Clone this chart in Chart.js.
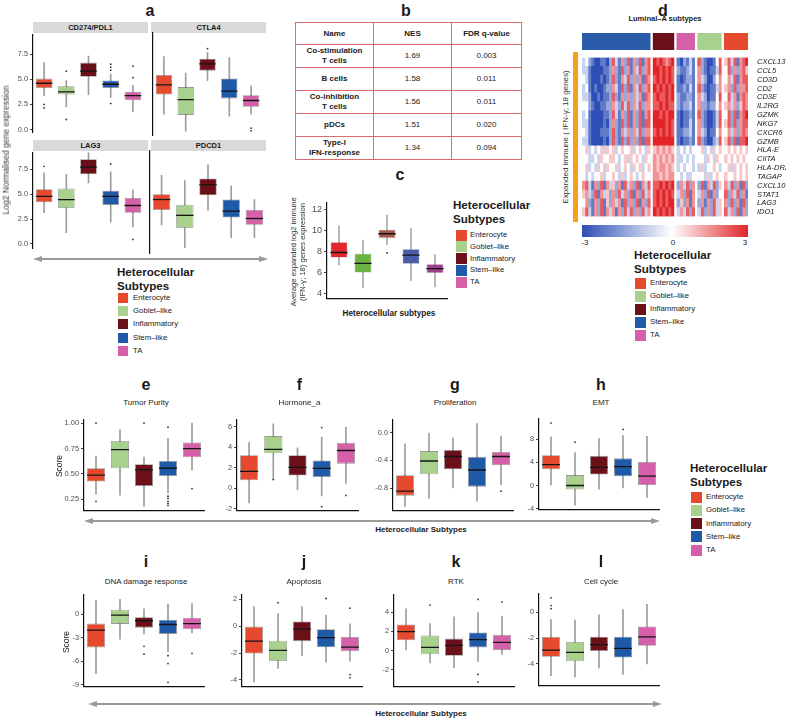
<!DOCTYPE html>
<html>
<head>
<meta charset="utf-8">
<script src="https://cdn.jsdelivr.net/npm/chart.js@4.4.0/dist/chart.umd.min.js"></script>
<style>
body { margin:0; width:786px; height:719px; position:relative; background:#fff; overflow:hidden;
       font-family:"Liberation Sans", Arial, sans-serif; color:#1a1a1a; }
.t { position:absolute; white-space:nowrap; line-height:1; transform:translate(-50%,-50%); }
.l { position:absolute; white-space:nowrap; line-height:1; transform:translate(0,-50%); }
.sq { position:absolute; }
table.nes { position:absolute; left:295px; top:22px; border-collapse:collapse; font-size:8px; }
table.nes td { border:1px solid #dd6c6c; text-align:center; padding:0; line-height:1.2; }
</style>
</head>
<body>
<script>
// ---- data ----
const subtypes = ['Enterocyte', 'Goblet–like', 'Inflammatory', 'Stem–like', 'TA'];

// each row: [lower whisker, q1, median, q3, upper whisker]
const cd274 = [[3.37,4.12,4.6,5.06,6.65],[2.25,3.47,3.75,4.3,4.87],[3.47,5.25,5.8,6.65,7.3],[3.2,4.12,4.5,4.87,5.5],[1.78,2.9,3.37,3.75,4.4]];
const cd274Out = [[2.5,2.15],[5.8,1.0],[],[6.5,6.2,5.9,2.6],[5.15,6.3]];
const ctla4 = [[1.69,3.56,4.5,5.44,7.19],[0.06,1.62,3.09,4.28,5.62],[4.9,5.85,6.5,7.0,7.6],[1.5,3.2,3.9,5.1,7.1],[1.7,2.4,3.0,3.5,4.4]];
const ctla4Out = [[],[],[7.95],[],[0.35,0.1]];
const lag3 = [[3.13,4.18,4.78,5.5,7.15],[1.14,3.6,4.46,5.57,7.0],[6.14,7.0,7.72,8.52,9.2],[2.18,3.92,4.78,5.35,7.25],[1.71,3.13,3.86,4.62,5.44]];
const lag3Out = [[7.8],[],[],[8.04],[0.45]];
const pdcd1 = [[2.2,3.6,4.6,5.1,6.9],[0.0,1.9,3.1,4.1,6.4],[3.6,5.0,6.0,6.6,7.9],[1.0,2.9,3.5,4.6,5.9],[1.0,2.2,2.8,3.6,4.6]];
const pdcd1Out = [[],[],[],[],[]];

const immune = [[6.7,7.4,7.9,8.9,10.45],[4.5,5.95,6.85,7.8,9.1],[8.65,9.25,9.7,10.1,11.5],[5.2,6.8,7.65,8.25,10.2],[4.6,5.9,6.35,6.8,7.7]];
const immuneOut = [[],[],[7.85],[],[]];

const purity = [[0.30,0.426,0.488,0.556,0.676],[0.29,0.556,0.74,0.824,0.935],[0.18,0.38,0.54,0.595,0.667],[0.31,0.48,0.556,0.627,0.85],[0.54,0.664,0.75,0.81,1.0]];
const purityOut = [[1.0,0.23],[],[1.0],[0.96,0.28,0.26,0.23,0.21,0.19],[0.355]];
const hormone = [[-1.42,0.79,1.65,3.24,4.47],[0.88,3.43,3.8,5.11,6.3],[-0.13,1.25,2.05,3.24,3.95],[-0.74,1.1,1.95,2.72,5.0],[0.48,2.41,3.7,4.47,6.0]];
const hormoneOut = [[],[0.85],[],[5.94,-1.8],[-0.7]];
const prolif = [[-1.07,-0.91,-0.845,-0.615,-0.163],[-0.95,-0.6,-0.41,-0.267,0.0],[-0.8,-0.53,-0.345,-0.25,-0.08],[-0.99,-0.78,-0.54,-0.35,0.13],[-0.75,-0.47,-0.345,-0.28,-0.05]];
const prolifOut = [[],[],[],[],[-0.845]];
const emt = [[0.1,2.81,3.62,5.24,8.4],[-3.4,-0.7,0.0,1.8,5.7],[-0.64,1.89,3.14,5.13,8.1],[-0.4,1.6,3.25,4.7,8.65],[-2.05,0.0,1.63,4.06,8.5]];
const emtOut = [[10.8],[7.5],[],[9.7],[]];
const dna = [[-7.6,-4.24,-2.04,-1.2,1.76],[-3.2,-1.24,-0.12,0.56,1.88],[-2.52,-1.72,-0.84,-0.4,0.68],[-4.8,-2.52,-1.32,-0.72,1.28],[-2.4,-1.92,-1.2,-0.44,1.36]];
const dnaOut = [[],[],[-4.1,-5.1],[-5.3,-6.3,-8.7],[-5.0]];
const apop = [[-4.14,-2.03,-1.12,0.0,1.44],[-3.14,-2.6,-1.81,-1.09,0.93],[-2.2,-1.12,-0.23,0.35,1.44],[-2.68,-1.58,-0.86,-0.23,0.81],[-2.6,-1.86,-1.56,-0.81,0.16]];
const apopOut = [[],[1.74],[],[2.05],[1.33,-3.6,-3.84]];
const rtk = [[0.0,1.08,1.97,2.72,4.36],[-1.3,-0.4,0.33,1.57,2.82],[-1.8,-0.55,0.53,1.25,3.54],[-1.15,0.33,1.15,1.9,3.97],[-0.4,0.04,0.85,1.64,3.6]];
const rtkOut = [[],[4.76],[],[5.35,-2.5,-3.3],[5.1]];
const cycle = [[-4.9,-3.44,-2.93,-1.91,-0.58],[-5.0,-3.8,-3.1,-2.3,-0.6],[-4.3,-3.0,-2.5,-1.9,-0.2],[-4.8,-3.5,-2.8,-1.9,0.2],[-4.0,-2.6,-1.9,-1.1,0.6]];
const cycleOut = [[1.11,0.51,0.27],[],[],[],[]];

// GSEA table
const gseaNames = ['Co-stimulation<br>T cells', 'B cells', 'Co-inhibition<br>T cells', 'pDCs', 'Type-I<br>IFN-response'];
const gseaNES = ['1.69', '1.58', '1.56', '1.51', '1.34'];
const gseaFDR = ['0.003', '0.011', '0.011', '0.020', '0.094'];

// heatmap: z-scores coded 0..8 (4 = 0, step 0.75), groups split by |
const genes = ['CXCL13','CCL5','CD3D','CD2','CD3E','IL2RG','GZMK','NKG7','CXCR6','GZMB','HLA-E','CIITA','HLA-DRA','TAGAP','CXCL10','STAT1','LAG3','IDO1'];
const heatGroups = ['Stem–like', 'Inflammatory', 'TA', 'Goblet–like', 'Enterocyte'];
const heatGroupCols = [23, 7, 6, 8, 8];
const heatRows = [
  '34210 01102 73162 71627 167 | 8787678 | 102131 | 72100147 | 57371678',
  '33100 00112 62172 61637 267 | 8878787 | 211231 | 62101137 | 47262675',
  '43100 01012 72163 72626 176 | 7878787 | 101221 | 63200246 | 46371677',
  '34101 00122 63172 71637 267 | 8787878 | 112131 | 72101136 | 56272667',
  '33200 10112 72162 62636 176 | 7877878 | 211221 | 63201147 | 47361676',
  '44210 01122 63273 72637 266 | 7787877 | 212231 | 62212246 | 56362576',
  '34100 00112 73162 71627 167 | 8878788 | 101121 | 72100137 | 47271678',
  '33100 00102 62172 71627 177 | 8888787 | 101131 | 62100137 | 57272677',
  '43100 01112 72163 62637 266 | 7878787 | 112231 | 63201146 | 46362676',
  '33100 00102 72172 72627 177 | 8888888 | 101121 | 72100237 | 57271778',
  '45343 45354 53454 45345 435 | 5656565 | 343434 | 45343545 | 45454545',
  '44334 35445 54345 35454 354 | 6565656 | 334343 | 44354354 | 54545454',
  '45343 54354 45345 43545 345 | 6566565 | 343443 | 35344543 | 45354545',
  '43434 45344 54353 45434 544 | 6656566 | 434334 | 44353454 | 54454545',
  '67316 27163 52617 36271 637 | 7787878 | 263726 | 27163725 | 63726172',
  '56327 16352 62736 27162 736 | 7878787 | 362716 | 36271624 | 72637261',
  '46216 27152 63617 26271 627 | 7878788 | 252616 | 26162735 | 62726172',
  '57316 27163 61627 37262 736 | 8787878 | 363727 | 37262735 | 73627162'
];

// ---- styles ----
const subtypeColors = ['#e64a2e', '#a9d18e', '#6b1018', '#1f5aa8', '#d55fa9'];
const immuneColors = ['#e3262b', '#6cb242', '#a35a4c', '#4b5ca9', '#a13d8e'];
const groupColors = {'Stem–like':'#2a5caa','Inflammatory':'#6b1018','TA':'#d55fa9','Goblet–like':'#a9d18e','Enterocyte':'#e64a2e'};

Chart.defaults.font.family = '"Liberation Sans", Arial, sans-serif';
Chart.defaults.animation = false;
Chart.defaults.events = [];
Chart.defaults.plugins.legend.display = false;
Chart.defaults.plugins.tooltip.enabled = false;

function place(left, top, w, h) {
  const d = document.createElement('div');
  d.style.cssText = `position:absolute;left:${left}px;top:${top}px;width:${w}px;height:${h}px`;
  const c = document.createElement('canvas');
  d.appendChild(c);
  document.body.appendChild(d);
  return c;
}

function text(str, x, y, css, cls) {
  const d = document.createElement('div');
  d.className = cls || 't';
  d.innerHTML = str;
  d.style.cssText = `left:${x}px;top:${y}px;` + (css || '');
  document.body.appendChild(d);
  return d;
}

function boxPanel(box, out, p) {
  const padTop = 5, xh = 2;
  const left = p.axis - p.yw;
  const cv = place(left, p.top - padTop, p.right - left, p.bottom - p.top + padTop + xh);
  const bw = p.bw || 0.75;
  const pts = [];
  out.forEach((arr, i) => arr.forEach(v => pts.push({ x: subtypes[i], y: v })));
  return new Chart(cv, {
    type: 'bar',
    data: {
      labels: subtypes,
      datasets: [
        { data: box.map(b => [b[0], b[4]]), backgroundColor: p.whisker || '#9d9d9d',
          barThickness: 1, grouped: false, order: 3 },
        { data: box.map(b => [b[1], b[3]]), backgroundColor: p.colors || subtypeColors,
          borderColor: p.boxBorder || 'rgba(70,70,70,0.55)', borderWidth: 0.8, borderSkipped: false,
          barPercentage: bw, categoryPercentage: 1, grouped: false, order: 2 },
        { type: 'line', data: box.map(b => b[2]), showLine: false, pointStyle: 'line',
          pointRadius: ctx => ctx.chart.scales.x.width / subtypes.length * bw / 2,
          pointBorderColor: '#151515', pointBorderWidth: 1.3, order: 1 },
        { type: 'line', data: pts, showLine: false, pointRadius: p.outR || 0.9,
          pointBackgroundColor: '#333', pointBorderWidth: 0, order: 0 }
      ]
    },
    options: {
      responsive: true, maintainAspectRatio: false,
      layout: { padding: { top: padTop, left: 0, right: 0, bottom: 0 } },
      scales: {
        x: { offset: true, grid: { display: false }, ticks: { display: false },
             border: { display: p.xline !== false, color: '#111', width: 1.2 },
             afterFit: s => { s.height = xh; } },
        y: { min: p.min, max: p.max,
             afterBuildTicks: s => { s.ticks = p.ticks.map(v => ({ value: v })); },
             ticks: { display: p.labels !== false, callback: v => v.toFixed(p.dec),
                      font: { size: p.fs || 7.4 }, color: '#4d4d4d', padding: 2 },
             grid: { drawOnChartArea: false, drawTicks: p.labels !== false, tickLength: 3, color: '#444' },
             border: { color: '#111', width: 1.2 },
             afterFit: s => { s.width = p.yw; } }
      }
    }
  });
}

// ---- panel a ----
text('a', 150, 11, 'font-weight:bold;font-size:16px');
const stripCss = 'position:absolute;background:#d9d9d9;font-weight:bold;font-size:7.5px;text-align:center;';
[['CD274/PDL1', 33, 22, 115], ['CTLA4', 151, 22, 115], ['LAG3', 33, 140, 115], ['PDCD1', 151, 140, 115]].forEach(s => {
  const d = document.createElement('div');
  d.textContent = s[0];
  d.style.cssText = stripCss + `left:${s[1]}px;top:${s[2]}px;width:${s[3]}px;height:11px;line-height:11px;`;
  document.body.appendChild(d);
});
const aTicks = [0, 2.5, 5, 7.5];
boxPanel(cd274, cd274Out, { axis: 33, top: 33, right: 148, bottom: 137, min: -0.3, max: 9.45, ticks: aTicks, dec: 1, yw: 33, xline: false });
boxPanel(ctla4, ctla4Out, { axis: 150, top: 33, right: 266, bottom: 137, min: -0.3, max: 9.45, ticks: aTicks, dec: 1, yw: 1, labels: false, xline: false });
boxPanel(lag3, lag3Out, { axis: 33, top: 151, right: 148, bottom: 253, min: -0.47, max: 9.2, ticks: aTicks, dec: 1, yw: 33, xline: false });
boxPanel(pdcd1, pdcd1Out, { axis: 150, top: 151, right: 266, bottom: 253, min: -0.47, max: 9.2, ticks: aTicks, dec: 1, yw: 1, labels: false, xline: false });
text('Log2 Normalised gene expression', 6, 150, 'font-size:8.5px;color:#333;transform:translate(-50%,-50%) rotate(-90deg)');

// ---- legends ----
function legend(tx, ty, sx, sy, step, size, lx) {
  text('Heterocellular', tx, ty, 'font-weight:bold;font-size:11.6px', 'l');
  text('Subtypes', tx, ty + 13.5, 'font-weight:bold;font-size:11.6px', 'l');
  subtypes.forEach((s, i) => {
    const d = document.createElement('div');
    d.className = 'sq';
    d.style.cssText = `left:${sx}px;top:${sy + i * step - size / 2}px;width:${size}px;height:${size}px;background:${subtypeColors[i]}`;
    document.body.appendChild(d);
    text(s, lx, sy + i * step, 'font-size:7.8px;color:#222', 'l');
  });
}
legend(117, 272, 118, 298, 13.2, 10, 133);
legend(453, 205, 456, 235, 11.8, 11, 470);
legend(634, 255, 635, 283, 13, 11, 650);
legend(690, 468, 691, 497, 13.3, 11, 706);

// ---- panel b: table ----
text('b', 406, 11, 'font-weight:bold;font-size:16px');
(function () {
  const tb = document.createElement('table');
  tb.className = 'nes';
  const widths = [77, 77, 69];
  const heights = [22, 23, 23, 23, 23, 23];
  let html = `<tr style="height:${heights[0]}px"><td style="width:${widths[0]}px;font-weight:bold">Name</td><td style="width:${widths[1]}px;font-weight:bold">NES</td><td style="width:${widths[2]}px;font-weight:bold">FDR q-value</td></tr>`;
  gseaNames.forEach((n, i) => {
    html += `<tr style="height:${heights[i + 1]}px"><td style="font-weight:bold">${n}</td><td>${gseaNES[i]}</td><td>${gseaFDR[i]}</td></tr>`;
  });
  tb.innerHTML = html;
  document.body.appendChild(tb);
})();

// ---- panel c ----
text('c', 400, 175, 'font-weight:bold;font-size:16px');
boxPanel(immune, immuneOut, { axis: 327, top: 200, right: 451, bottom: 304, min: 3.47, max: 12.71,
  ticks: [4, 6, 8, 10, 12], dec: 0, yw: 24, fs: 9, colors: immuneColors, boxBorder: 'rgba(0,0,0,0.15)', whisker: '#aaaaaa', bw: 0.72 });
text('Average expanded log2 immune', 294, 252, 'font-size:7.6px;color:#333;transform:translate(-50%,-50%) rotate(-90deg)');
text('(IFN-γ; 18) genes expression', 303, 252, 'font-size:7.6px;color:#333;transform:translate(-50%,-50%) rotate(-90deg)');
text('Heterocellular subtypes', 389, 314, 'font-weight:bold;font-size:8.2px');

// ---- panel d: heatmap ----
text('d', 663, 11, 'font-weight:bold;font-size:16px');
text('Luminal–A subtypes', 665, 19, 'font-weight:bold;font-size:7.5px');
text('Expanded immune ( IFN-γ; 18 genes)', 566, 137, 'font-size:8px;color:#333;transform:translate(-50%,-50%) rotate(-90deg)');
(function () {
  const bar = document.createElement('div');
  bar.style.cssText = 'position:absolute;left:573px;top:52px;width:5px;height:170px;background:#f5a11c';
  document.body.appendChild(bar);
})();

function heatColor(v) {
  const t = Math.max(-1, Math.min(1, v / 3));
  const c = t < 0 ? [44, 78, 182] : [226, 36, 40];
  const a = Math.abs(t);
  return `rgb(${c.map(k => Math.round(255 + (k - 255) * a)).join(',')})`;
}

// column start positions, one empty column between groups
const colStart = [];
const groupStart = [];
let pos = 0;
heatGroupCols.forEach(n => { groupStart.push(pos); for (let j = 0; j < n; j++) colStart.push(pos + j); pos += n + 1; });
const heatWidth = pos - 1;
const cells = heatRows.map(r => r.split('|').map((g, gi) => {
  const s = g.replace(/\s/g, '');
  return s.padEnd(heatGroupCols[gi], '4').slice(0, heatGroupCols[gi]);
}).join('').split('').map(ch => (Number(ch) - 4) * 0.75));

new Chart(place(582, 33, 166, 17), {
  type: 'bar',
  data: {
    labels: [''],
    datasets: heatGroups.map((g, i) => ({
      data: [[groupStart[i], groupStart[i] + heatGroupCols[i]]],
      backgroundColor: groupColors[g], barPercentage: 1, categoryPercentage: 1, grouped: false
    }))
  },
  options: {
    indexAxis: 'y', responsive: true, maintainAspectRatio: false,
    scales: { x: { display: false, min: 0, max: heatWidth }, y: { display: false } }
  }
});

new Chart(place(582, 52, 204, 170), {
  type: 'bar',
  data: {
    labels: genes,
    datasets: colStart.map((x0, c) => ({
      data: genes.map(() => [x0, x0 + 1]),
      backgroundColor: cells.map(row => heatColor(row[c])),
      barPercentage: 1, categoryPercentage: 1, grouped: false, borderWidth: 0
    }))
  },
  options: {
    indexAxis: 'y', responsive: true, maintainAspectRatio: false,
    scales: {
      x: { display: false, min: 0, max: heatWidth },
      y: { position: 'right', grid: { display: false }, border: { display: false },
           ticks: { font: { size: 7.5, style: 'italic' }, color: '#1a1a1a', padding: 1, autoSkip: false },
           afterFit: s => { s.width = 38; } }
    }
  }
});
(function () {
  const cb = document.createElement('div');
  cb.style.cssText = 'position:absolute;left:582px;top:225px;width:166px;height:12px;background:linear-gradient(to right, rgb(44,78,182) 0%, #fff 54%, rgb(226,36,40) 100%)';
  document.body.appendChild(cb);
})();
text('-3', 585, 243, 'font-size:8px');
text('0', 673, 243, 'font-size:8px');
text('3', 745, 243, 'font-size:8px');

// ---- panels e-l ----
const lowerPanels = [
  ['e', 'Tumor Purity', purity, purityOut, { axis: 84, top: 418, right: 208, bottom: 515, min: 0.139, max: 1.037, ticks: [0.25, 0.5, 0.75, 1.0], dec: 2 }],
  ['f', 'Hormone_a', hormone, hormoneOut, { axis: 237, top: 418, right: 362, bottom: 515, min: -2.18, max: 6.74, ticks: [-2, 0, 2, 4, 6], dec: 0 }],
  ['g', 'Proliferation', prolif, prolifOut, { axis: 393, top: 418, right: 517, bottom: 515, min: -1.125, max: 0.19, ticks: [-0.8, -0.4, 0.0], dec: 1 }],
  ['h', 'EMT', emt, emtOut, { axis: 539, top: 417, right: 663, bottom: 514, min: -4.16, max: 11.6, ticks: [-4, 0, 4, 8], dec: 0 }],
  ['i', 'DNA damage response', dna, dnaOut, { axis: 84, top: 593, right: 208, bottom: 691, min: -9.24, max: 2.52, ticks: [-9, -6, -3, 0], dec: 0 }],
  ['j', 'Apoptosis', apop, apopOut, { axis: 242, top: 593, right: 366, bottom: 691, min: -4.49, max: 2.35, ticks: [-4, -2, 0, 2], dec: 0 }],
  ['k', 'RTK', rtk, rtkOut, { axis: 394, top: 593, right: 518, bottom: 691, min: -3.77, max: 5.87, ticks: [-2, 0, 2, 4], dec: 0 }],
  ['l', 'Cell cycle', cycle, cycleOut, { axis: 539, top: 592, right: 663, bottom: 690, min: -5.67, max: 1.45, ticks: [-4, -2, 0], dec: 0 }]
];
lowerPanels.forEach((pn, i) => {
  const p = pn[4];
  p.yw = 26;
  const cx = (p.axis + p.right) / 2;
  const row = i < 4 ? 0 : 1;
  text(pn[0], cx, row ? 562 : 385, 'font-weight:bold;font-size:16px');
  text(pn[1], cx, row ? 582 : 403, 'font-size:8px;color:#222');
  boxPanel(pn[2], pn[3], p);
});
text('Score', 59, 466, 'font-size:8.5px;color:#222;transform:translate(-50%,-50%) rotate(-90deg)');
text('Score', 66, 642, 'font-size:8.5px;color:#222;transform:translate(-50%,-50%) rotate(-90deg)');
text('Heterocellular Subtypes', 421, 530, 'font-weight:bold;font-size:8px');
text('Heterocellular Subtypes', 421, 714, 'font-weight:bold;font-size:8px');

// ---- grey double arrows ----
(function () {
  const ns = 'http://www.w3.org/2000/svg';
  const svg = document.createElementNS(ns, 'svg');
  svg.setAttribute('width', 786); svg.setAttribute('height', 719);
  svg.style.cssText = 'position:absolute;left:0;top:0;pointer-events:none';
  [[33, 268, 259], [84, 660, 521], [88, 662, 704]].forEach(a => {
    const [x1, x2, y] = a;
    const ln = document.createElementNS(ns, 'line');
    ln.setAttribute('x1', x1 + 6); ln.setAttribute('x2', x2 - 6);
    ln.setAttribute('y1', y); ln.setAttribute('y2', y);
    ln.setAttribute('stroke', '#9a9a9a'); ln.setAttribute('stroke-width', 1.8);
    svg.appendChild(ln);
    [[x1, 1], [x2, -1]].forEach(h => {
      const pg = document.createElementNS(ns, 'polygon');
      pg.setAttribute('points', `${h[0]},${y} ${h[0] + 9 * h[1]},${y - 3} ${h[0] + 9 * h[1]},${y + 3}`);
      pg.setAttribute('fill', '#9a9a9a');
      svg.appendChild(pg);
    });
  });
  document.body.appendChild(svg);
})();
</script>
</body>
</html>
